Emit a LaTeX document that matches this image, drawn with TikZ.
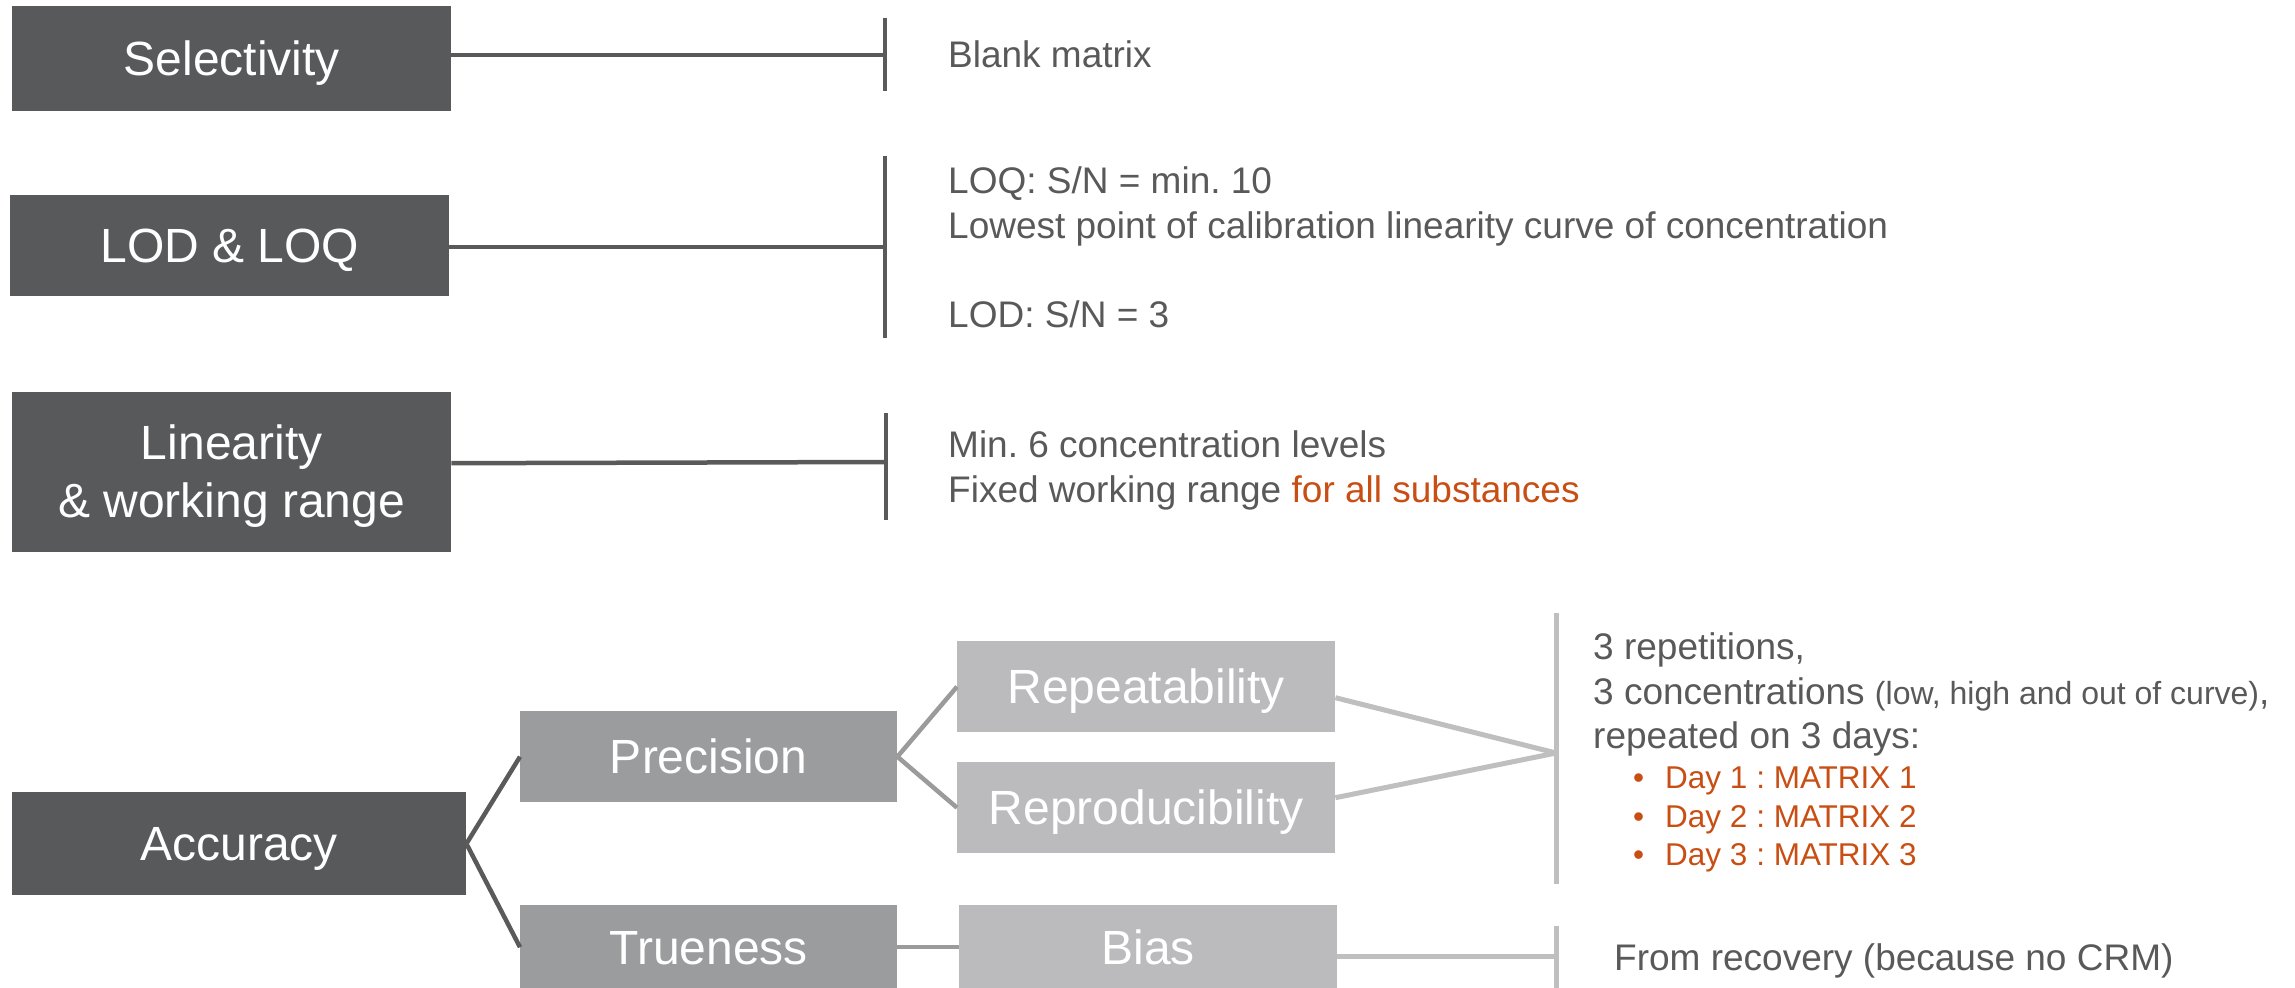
\documentclass[tikz,border=0pt]{standalone}
\usepackage{fontspec}
\setmainfont{Liberation Sans}
\usetikzlibrary{calc}
\frenchspacing
\definecolor{boxdark}{HTML}{58595B}
\definecolor{boxmid}{HTML}{9B9C9E}
\definecolor{boxlight}{HTML}{BBBBBD}
\definecolor{txtgray}{HTML}{595959}
\definecolor{accent}{HTML}{C84E14}
\definecolor{linedark}{HTML}{5A5A5A}
\definecolor{linemid}{HTML}{9B9B9B}
\definecolor{linelight}{HTML}{BFBFBF}
\begin{document}
\begin{tikzpicture}[x=1pt,y=-1pt,
  box/.style={anchor=north west, inner sep=0pt, text=white,
    font=\fontsize{48}{58}\selectfont},
  oneline/.style={text height=34.5pt, text depth=0pt},
  dark/.style={box, fill=boxdark},
  mid/.style={box, fill=boxmid},
  light/.style={box, fill=boxlight},
  note/.style={anchor=base west, inner sep=0pt, text=txtgray,
    font=\fontsize{37}{44}\selectfont},
  daynote/.style={anchor=base west, inner sep=0pt, text=accent,
    font=\fontsize{31.5}{38}\selectfont},
  darkline/.style={draw=linedark, line width=4.5pt},
  midline/.style={draw=linemid, line width=4.5pt},
  lightline/.style={draw=linelight, line width=5pt},
]
\useasboundingbox (0,0) rectangle (2295,988);

% left-hand criteria boxes
\node[dark, oneline, minimum width=439pt, minimum height=105pt] (sel) at (12,6) {Selectivity};
\node[dark, oneline, minimum width=439pt, minimum height=101pt] (lod) at (10,195) {LOD \& LOQ};
\node[dark, align=center, minimum width=439pt, minimum height=160pt] (lin) at (12,392)
  {\rule{0pt}{43pt}Linearity\\\& working range};
\node[dark, oneline, minimum width=454pt, minimum height=103pt] (acc) at (12,792) {Accuracy};

% accuracy sub-tree
\node[mid, oneline, minimum width=377pt, minimum height=91pt] (prec) at (520,711) {Precision};
\node[mid, oneline, minimum width=377pt, minimum height=84pt] (true) at (520,905) {Trueness};
\node[light, oneline, minimum width=378pt, minimum height=91pt] (rep) at (957,641) {Repeatability};
\node[light, oneline, minimum width=378pt, minimum height=91pt] (repro) at (957,762) {Reproducibility};
\node[light, oneline, minimum width=378pt, minimum height=84pt] (bias) at (959,905) {Bias};

% bracket bars
\coordinate (s1) at (885,55);
\coordinate (s1a) at (885,18);  \coordinate (s1b) at (885,91);
\coordinate (s2) at (885,247);
\coordinate (s2a) at (885,156); \coordinate (s2b) at (885,338);
\coordinate (s3) at (886,462);
\coordinate (s3a) at (886,413); \coordinate (s3b) at (886,520);
\coordinate (s4) at (1556,753);
\coordinate (s4a) at (1556,613); \coordinate (s4b) at (1556,884);
\coordinate (s5) at (1556,956);
\coordinate (s5a) at (1556,926); \coordinate (s5b) at (1556,990);

\draw[darkline] (s1a) -- (s1b);
\draw[darkline] (s2a) -- (s2b);
\draw[darkline] (s3a) -- (s3b);
\draw[lightline] (s4a) -- (s4b);
\draw[lightline] (s5a) -- (s5b);

% connectors
\draw[darkline] (sel.east |- s1) -- (s1);
\draw[darkline] (lod.east |- s2) -- (s2);
\draw[darkline] ($(lin.east)+(0,-9)$) -- (s3);
\draw[darkline] (acc.east) -- (prec.west);
\draw[darkline] (acc.east) -- (true.west);
\draw[midline] (prec.east) -- (rep.west);
\draw[midline] (prec.east) -- (repro.west);
\draw[midline] (true.east) -- (bias.west);
\draw[lightline] ($(rep.east)+(0,11)$) -- (s4);
\draw[lightline] ($(repro.east)+(0,-10)$) -- (s4);
\draw[lightline] (bias.east |- s5) -- (s5);

% notes
\node[note] (n1) at (948,67) {Blank matrix};
\node[note] (n2) at (948,193) {LOQ: S/N = min. 10};
\node[note] (n3) at (948,238) {Lowest point of calibration linearity curve of concentration};
\node[note] (n4) at (948,327) {LOD: S/N = 3};
\node[note] (n5) at (948,457) {Min. 6 concentration levels};
\node[note] (n6) at (948,502) {Fixed working range \textcolor{accent}{for all substances}};
\node[note] (n7) at (1593,659) {3 repetitions,};
\node[note] (n8) at (1593,704) {3 concentrations {\fontsize{32}{38}\selectfont(low, high and out of curve)},};
\node[note] (n9) at (1593,748) {repeated on 3 days:};
\node[daynote] (d1) at (1633,788) {\textbullet\hspace{21pt}Day 1 : MATRIX 1};
\node[daynote] (d2) at (1633,827) {\textbullet\hspace{21pt}Day 2 : MATRIX 2};
\node[daynote] (d3) at (1633,865) {\textbullet\hspace{21pt}Day 3 : MATRIX 3};
\node[note] (n10) at (1614,970) {From recovery (because no CRM)};
\end{tikzpicture}
\end{document}
